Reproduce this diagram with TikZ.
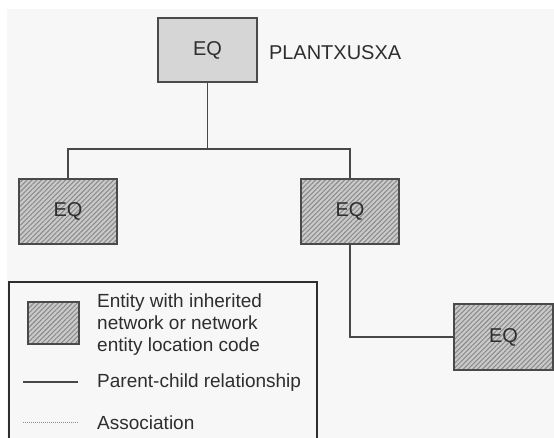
\documentclass[tikz,border=0pt]{standalone}
\usepackage{fontspec}
\setmainfont{Liberation Sans}
\usetikzlibrary{positioning,patterns.meta}
\definecolor{eqInk}{HTML}{2E2E2E}
\definecolor{eqEdge}{HTML}{4A4A4A}
\definecolor{eqPaper}{HTML}{F7F7F7}
\definecolor{eqTop}{HTML}{D6D6D6}
\definecolor{eqHatchBg}{HTML}{CACACA}
\definecolor{eqHatch}{HTML}{8C8C8C}
\definecolor{eqLine}{HTML}{484848}
\tikzset{
  every picture/.style={font=\fontsize{20}{24}\selectfont, text=eqInk},
  eq plain/.style={draw=eqEdge, line width=1.6pt, fill=eqTop,
    minimum width=99pt, minimum height=64pt, inner sep=0pt},
  eq hatch/.style={draw=eqEdge, line width=1.6pt, preaction={fill=eqHatchBg},
    pattern={Lines[angle=45,distance=3.4pt,line width=1.1pt]}, pattern color=eqHatch,
    minimum width=98pt, minimum height=65pt, inner sep=0pt},
  eq link/.style={draw=eqLine, line width=1.5pt},
  eq assoc/.style={draw=eqHatch, line width=1pt, dash pattern=on 1pt off 1pt},
  eq legend/.style={draw=eqInk, line width=1.5pt},
  eq note/.style={font=\fontsize{19}{22}\selectfont, align=left, anchor=west, inner sep=0pt}
}
\begin{document}
\begin{tikzpicture}[x=1pt,y=-1pt]
  \useasboundingbox (0,0) rectangle (554,438);
  \clip (0,0) rectangle (554,438);
  \fill[white] (0,0) rectangle (554,438);
  \fill[eqPaper] (7,9) rectangle (554,438);
  % tree
  \node[eq plain] (plant) at (207.5,50) {EQ};
  \node[inner sep=0pt, right=11pt of plant, yshift=-3pt] (plantname) {PLANTXUSXA};
  \node[eq hatch] (eqL) at (68,211.5) {EQ};
  \node[eq hatch] (eqM) at (350,211.5) {EQ};
  \node[eq hatch, minimum width=99pt, minimum height=66pt] (eqR) at (503.5,337) {EQ};
  \coordinate (bar) at (207.5,149);
  \draw[eq link] (plant) -- (bar);
  \draw[eq link] (eqL.north) |- (bar) -| (eqM.north);
  \draw[eq link] (eqM.south) |- (eqR.west);
  % legend
  \draw[eq legend] (9,282) rectangle (317,460);
  \node[eq hatch, minimum width=51pt, minimum height=42pt] (sw) at (53.5,323) {};
  \node[eq note] (swtext) at (97,325) {Entity with inherited\\network or network\\entity location code};
  \coordinate (pcA) at (23,382); \coordinate (pcB) at (78,382);
  \draw[eq link] (pcA) -- (pcB);
  \node[eq note] (pctext) at (97,383) {Parent-child relationship};
  \coordinate (asA) at (23,422); \coordinate (asB) at (78,422);
  \draw[eq assoc] (asA) -- (asB);
  \node[eq note] (astext) at (97,423) {Association};
\end{tikzpicture}
\end{document}
